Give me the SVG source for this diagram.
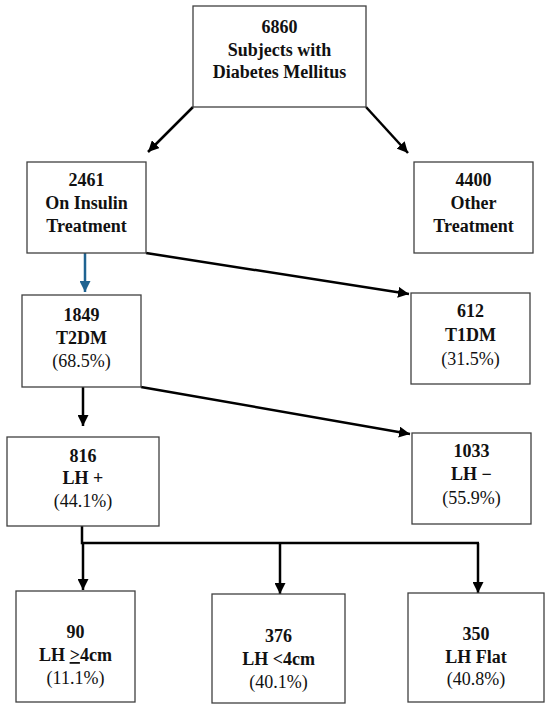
<svg xmlns="http://www.w3.org/2000/svg" width="550" height="711" viewBox="0 0 550 711">
<style>
.box{fill:#fff;stroke:#404040;stroke-width:1.3}
.t{font-family:"Liberation Serif","Times New Roman",serif;font-size:18px;text-anchor:middle;fill:#111}
.b{font-weight:bold}
.c{fill:none;stroke:#000;stroke-width:2.5}
.blue{fill:none;stroke:#1f6391;stroke-width:2.5}
</style>
<defs>
<marker id="ah" viewBox="0 0 10 10" refX="10" refY="5" markerWidth="11" markerHeight="11" markerUnits="userSpaceOnUse" orient="auto"><path d="M0,0 L10,5 L0,10 z" fill="#000"/></marker>
<marker id="ahb" viewBox="0 0 10 10" refX="10" refY="5" markerWidth="11" markerHeight="11" markerUnits="userSpaceOnUse" orient="auto"><path d="M0,0 L10,5 L0,10 z" fill="#1f6391"/></marker>
</defs>
<rect width="550" height="711" fill="#fff"/>
<g id="connectors">
<line class="c" x1="193" y1="107" x2="148" y2="152" marker-end="url(#ah)"/>
<line class="c" x1="366" y1="107" x2="408" y2="153" marker-end="url(#ah)"/>
<line class="blue" x1="85" y1="253" x2="85" y2="292" marker-end="url(#ahb)"/>
<line class="c" x1="146" y1="253" x2="409" y2="294" marker-end="url(#ah)"/>
<line class="c" x1="83" y1="387" x2="83" y2="426" marker-end="url(#ah)"/>
<line class="c" x1="141" y1="387" x2="410" y2="434" marker-end="url(#ah)"/>
<path class="c" d="M82,526 V543 H479"/>
<line class="c" x1="83" y1="543" x2="83" y2="590" marker-end="url(#ah)"/>
<line class="c" x1="280" y1="543" x2="280" y2="594" marker-end="url(#ah)"/>
<line class="c" x1="478" y1="543" x2="478" y2="593" marker-end="url(#ah)"/>
</g>
<g id="n6860">
<rect class="box" x="193" y="6" width="173" height="101"/>
<text class="t b" x="279.5" y="33">6860</text>
<text class="t b" x="279.5" y="56">Subjects with</text>
<text class="t b" x="279.5" y="78">Diabetes Mellitus</text>
</g>
<g id="n2461">
<rect class="box" x="27" y="162" width="119" height="91"/>
<text class="t b" x="86.5" y="186">2461</text>
<text class="t b" x="86.5" y="209">On Insulin</text>
<text class="t b" x="86.5" y="232">Treatment</text>
</g>
<g id="n4400">
<rect class="box" x="414" y="162" width="119" height="91"/>
<text class="t b" x="473.5" y="186">4400</text>
<text class="t b" x="473.5" y="209">Other</text>
<text class="t b" x="473.5" y="232">Treatment</text>
</g>
<g id="n1849">
<rect class="box" x="22" y="295" width="119" height="92"/>
<text class="t b" x="81.5" y="321">1849</text>
<text class="t b" x="81.5" y="344">T2DM</text>
<text class="t" x="81.5" y="367">(68.5%)</text>
</g>
<g id="n612">
<rect class="box" x="411" y="293" width="119" height="91"/>
<text class="t b" x="470.5" y="317">612</text>
<text class="t b" x="470.5" y="341">T1DM</text>
<text class="t" x="470.5" y="365">(31.5%)</text>
</g>
<g id="n816">
<rect class="box" x="7" y="437" width="152" height="89"/>
<text class="t b" x="83" y="462">816</text>
<text class="t b" x="83" y="484">LH +</text>
<text class="t" x="83" y="507">(44.1%)</text>
</g>
<g id="n1033">
<rect class="box" x="412" y="433" width="119" height="91"/>
<text class="t b" x="471.5" y="457">1033</text>
<text class="t b" x="471.5" y="480">LH −</text>
<text class="t" x="471.5" y="504">(55.9%)</text>
</g>
<g id="n90">
<rect class="box" x="16" y="591" width="119" height="111"/>
<text class="t b" x="75.5" y="638">90</text>
<text class="t b" x="75.5" y="661">LH <tspan text-decoration="underline">&gt;</tspan>4cm</text>
<text class="t" x="75.5" y="684">(11.1%)</text>
</g>
<g id="n376">
<rect class="box" x="212" y="594" width="133" height="109"/>
<text class="t b" x="278.5" y="642">376</text>
<text class="t b" x="278.5" y="665">LH &lt;4cm</text>
<text class="t" x="278.5" y="688">(40.1%)</text>
</g>
<g id="n350">
<rect class="box" x="408" y="593" width="136" height="109"/>
<text class="t b" x="476" y="640">350</text>
<text class="t b" x="476" y="663">LH Flat</text>
<text class="t" x="476" y="685">(40.8%)</text>
</g>
</svg>
